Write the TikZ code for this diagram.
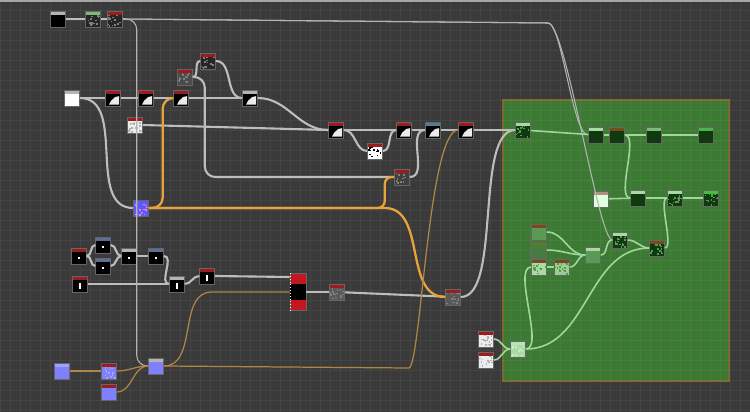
\documentclass[tikz,border=0pt]{standalone}
\usepackage{tikz}
\usetikzlibrary{calc}

\definecolor{bg}{HTML}{3A3A3A}
\definecolor{hred}{HTML}{9E1B1B}
\definecolor{hgray}{HTML}{B4B4B4}
\definecolor{hgreen}{HTML}{7DBA78}
\definecolor{hblue}{HTML}{5B6E96}
\definecolor{hteal}{HTML}{4A8090}
\definecolor{hbrown}{HTML}{7A4A1C}
\definecolor{hmint}{HTML}{A6DCA0}
\definecolor{framec}{HTML}{3C7A34}
\definecolor{frameb}{HTML}{7A6A30}
\definecolor{wirec}{HTML}{BDBDBD}
\definecolor{orngc}{HTML}{E8A33D}
\definecolor{tanc}{HTML}{B08548}
\definecolor{gwirec}{HTML}{9ED99A}
\definecolor{purp}{HTML}{8080FF}
\definecolor{dgreen}{HTML}{0F3A10}
\definecolor{mgreen}{HTML}{5A9A55}
\definecolor{pgreen}{HTML}{A9DBA3}
\definecolor{mixred}{HTML}{C4161E}

% little pictures inside the tiles
\newcommand\bwpic{\fill[white!92!black] ([shift={(2pt,.8pt)}]path picture bounding box.south west) -- ([shift={(-.8pt,.8pt)}]path picture bounding box.south east) -- ([shift={(-.8pt,-3.5pt)}]path picture bounding box.north east) -- ([shift={(-3pt,-4pt)}]path picture bounding box.north east) -- ([shift={(3.2pt,3pt)}]path picture bounding box.south west) -- cycle;}
\newcommand\noisepic[1]{\foreach \i in {1,...,16}{\fill[#1] ([shift={({7.5pt*rnd},{7pt*rnd})}]path picture bounding box.south west) rectangle ++(.9pt,.9pt);}}
\newcommand\dotpic{\fill[white] ([shift={(-.5pt,-1.5pt)}]path picture bounding box.center) rectangle ++(1pt,1pt);}
\newcommand\barpic{\fill[white] ([shift={(-.4pt,-3pt)}]path picture bounding box.center) rectangle ++(.8pt,3.6pt);}

\tikzset{
  hdr/.store in=\hdrcol, hdr=hgray,
  body/.store in=\bodypic, body={},
  tile/.style={inner sep=0pt, minimum width=.3cm, minimum height=.32cm, draw=black!60, line width=.3pt,
    path picture={\bodypic
      \fill[\hdrcol] (path picture bounding box.north west) rectangle ([yshift=-2.3pt]path picture bounding box.north east);}},
  lnk/.style={wirec, line width=1.2pt},
  thinlnk/.style={wirec!85!gray, line width=.6pt},
  orlnk/.style={orngc, line width=1.3pt},
  tanlnk/.style={tanc, line width=.7pt},
  grlnk/.style={gwirec, line width=.9pt},
}

\begin{document}
\begin{tikzpicture}[x=0.02cm, y=-0.02cm]
  \pgfmathsetseed{7}
  \useasboundingbox (0,0) rectangle (750,412);
  \fill[bg] (0,0) rectangle (750,412);
  \fill[framec, draw=frameb, line width=.6pt] (503,100) rectangle (729,381);
  \draw[white, opacity=.05, line width=.3pt, step=0.2cm] (0,0) grid (750,412);
  \fill[gray!70] (0,0) rectangle (750,2);

  % top row
  \node[tile, fill=black, hdr=hgray] (src) at (58,19) {};
  \node[tile, fill=black!85, hdr=hgreen, body=\noisepic{gray}] (nz1) at (93,19) {};
  \node[tile, fill=black!85, hdr=hred, body=\noisepic{gray}] (nz2) at (115,19) {};

  % shape chain
  \node[tile, fill=white, hdr=hgray] (base) at (72,98) {};
  \node[tile, fill=black, hdr=hred, body=\bwpic] (tr1) at (113,98) {};
  \node[tile, fill=black, hdr=hred, body=\bwpic] (tr2) at (146,98) {};
  \node[tile, fill=black, hdr=hred, body=\bwpic] (tr3) at (181,98) {};
  \node[tile, fill=black, hdr=hgray, body=\bwpic] (tr4) at (250,98) {};
  \node[tile, fill=black!70, hdr=hred, body=\noisepic{gray}] (cl1) at (185,77) {};
  \node[tile, fill=black!85, hdr=hred, body=\noisepic{gray}] (cl2) at (208,61) {};
  \node[tile, fill=white!85!gray, hdr=hred, body=\noisepic{gray!60}] (spk) at (135,125) {};

  \node[tile, fill=black, hdr=hred, body=\bwpic] (bl1) at (336,130) {};
  \node[tile, fill=white, hdr=hred, body=\noisepic{black}] (msk) at (375,151) {};
  \node[tile, fill=black, hdr=hred, body=\bwpic] (bl2) at (404,130) {};
  \node[tile, fill=black, hdr=hteal, body=\bwpic] (bl3) at (433,130) {};
  \node[tile, fill=black, hdr=hred, body=\bwpic] (bl4) at (466,130) {};
  \node[tile, fill=black!75, hdr=hred, body=\noisepic{gray}] (cl3) at (402,177) {};
  \node[tile, fill=purp!70!blue, hdr=purp!70!blue, body=\noisepic{magenta!50}] (nrm) at (141,208) {};

  % small black tiles
  \node[tile, fill=black, hdr=hred, body=\dotpic] (k1) at (79,256) {};
  \node[tile, fill=black, hdr=hblue, body=\dotpic] (k2) at (103,245) {};
  \node[tile, fill=black, hdr=hblue, body=\dotpic] (k3) at (103,266) {};
  \node[tile, fill=black, hdr=hgray, body=\dotpic] (k4) at (129,256) {};
  \node[tile, fill=black, hdr=hblue, body=\dotpic] (k5) at (156,256) {};
  \node[tile, fill=black, hdr=hred, body=\barpic] (k6) at (80,284) {};
  \node[tile, fill=black, hdr=hgray, body=\barpic] (k7) at (177,284) {};
  \node[tile, fill=black, hdr=hred, body=\barpic] (k8) at (207,276) {};

  \node[tile, minimum width=.32cm, minimum height=.74cm, fill=mixred, hdr=mixred] (mix) at (298,292) {};
  \fill[black] ($(mix.west)+(0,-8)$) rectangle ($(mix.east)+(0,8)$);
  \draw[white, line width=.6pt, dash pattern=on .5pt off 1.1pt] ([xshift=.4pt]mix.north west) -- ([xshift=.4pt]mix.south west);
  \node[tile, fill=gray!70!black, hdr=hred, body=\noisepic{gray}] (ao) at (337,292) {};
  \node[tile, fill=gray!70!black, hdr=hred, body=\noisepic{gray}] (blnd) at (453,297) {};

  % purple tiles
  \node[tile, fill=purp, hdr=purp!75!white] (pu1) at (62,371) {};
  \node[tile, fill=purp, hdr=hred, body=\noisepic{purp!70!white}] (pu2) at (109,371) {};
  \node[tile, fill=purp, hdr=hgray] (pu3) at (156,366) {};
  \node[tile, fill=purp, hdr=hred] (pu4) at (109,392) {};

  % inside the green frame
  \node[tile, fill=dgreen, hdr=hmint, body=\noisepic{mgreen}] (g1) at (523,130) {};
  \node[tile, fill=dgreen, hdr=hmint] (g2) at (596,135) {};
  \node[tile, fill=dgreen, hdr=hbrown] (g3) at (617,135) {};
  \node[tile, fill=dgreen, hdr=hgreen] (g4) at (654,135) {};
  \node[tile, fill=dgreen, hdr=gray!60!green] (g5) at (706,135) {};
  \node[tile, fill=green!12!white, hdr=hbrown!60!white] (h0) at (601,199) {};
  \node[tile, fill=dgreen, hdr=hmint] (h1) at (638,198) {};
  \node[tile, fill=dgreen, hdr=hmint, body=\noisepic{mgreen}] (h2) at (675,198) {};
  \node[tile, fill=dgreen, hdr=gray!50!green, body=\noisepic{mgreen}] (h3) at (711,198) {};
  \node[tile, fill=mgreen, hdr=hbrown] (l1) at (539,232) {};
  \node[tile, fill=mgreen!80!black, hdr=hbrown!70!green] (l2) at (539,250) {};
  \node[tile, fill=pgreen, hdr=hbrown, body=\noisepic{mgreen}] (l3) at (539,267) {};
  \node[tile, fill=pgreen!80!mgreen, hdr=hbrown, body=\noisepic{mgreen}] (l4) at (562,267) {};
  \node[tile, fill=mgreen, hdr=hmint] (l5) at (593,255) {};
  \node[tile, fill=dgreen, hdr=hmint, body=\noisepic{mgreen}] (j1) at (620,240) {};
  \node[tile, fill=dgreen, hdr=hbrown, body=\noisepic{mgreen}] (j2) at (657,248) {};
  \node[tile, fill=white!85!gray, hdr=hred, body=\noisepic{gray!60}] (s1) at (486,339) {};
  \node[tile, fill=white!85!gray, hdr=hred, body=\noisepic{gray!60}] (s2) at (486,360) {};
  \node[tile, fill=pgreen, hdr=pgreen!80!white, body=\noisepic{hmint!60!white}] (s3) at (518,349) {};
  \coordinate (bend) at (548,23);

  % gray wires
  \draw[lnk] (src) -- (nz1);
  \draw[lnk] (nz1) -- (nz2);
  \draw[thinlnk] (nz2.east) -- (bend) .. controls +(14,0) and +(-16,0) .. (g2.west);
  \draw[thinlnk] (nz2.east) -- (bend) .. controls +(18,0) and +(-14,0) .. (j1.west);
  \draw[thinlnk, rounded corners=6pt] (nz2.east) -- ++(14,0) |- (pu3.west);
  \draw[lnk] (base) -- (tr1);
  \draw[lnk] (tr1) -- (tr2);
  \draw[lnk] (tr2) -- (tr3);
  \draw[lnk] (tr3) -- (tr4);
  \draw[lnk] (cl1.east) to[out=0,in=180] (cl2.west);
  \draw[lnk] (cl2.east) to[out=0,in=180] (tr4.west);
  \draw[lnk, rounded corners=6pt] (cl1.east) -- ++(12,0) |- (cl3.west);
  \draw[lnk] (base.east) to[out=0,in=180] (nrm.west);
  \draw[lnk] (spk.east) -- (bl1.west);
  \draw[lnk] (tr4.east) to[out=0,in=180] (bl1.west);
  \draw[lnk] (bl1) -- (bl2);
  \draw[lnk] (bl1.east) to[out=0,in=180] (msk.west);
  \draw[lnk] (msk.east) to[out=0,in=180] (bl2.west);
  \draw[lnk] (bl2) -- (bl3);
  \draw[lnk] (bl3) -- (bl4);
  \draw[lnk] (bl4.east) -- (g1.west);
  \draw[lnk] (cl3.east) to[out=0,in=180] (bl3.west);
  \draw[lnk] (k1.east) to[out=0,in=180] (k2.west);
  \draw[lnk] (k1.east) to[out=0,in=180] (k3.west);
  \draw[lnk] (k2.east) to[out=0,in=180] (k4.west);
  \draw[lnk] (k3.east) to[out=0,in=180] (k4.west);
  \draw[lnk] (k4) -- (k5);
  \draw[lnk] (k5.east) to[out=0,in=180] (k7.west);
  \draw[lnk] (k6) -- (k7);
  \draw[lnk] (k7.east) to[out=0,in=180] (k8.west);
  \draw[lnk] (k8.east) -- ($(mix.west)+(0,-15)$);
  \draw[lnk] (mix) -- (ao);
  \draw[lnk] (ao) -- (blnd);
  \draw[lnk] (blnd.east) to[out=0,in=180,looseness=.6] (g1.west);

  % orange wires
  \draw[orlnk, rounded corners=6pt] (nrm.east) -- ++(14,0) |- (tr3.west);
  \draw[orlnk, rounded corners=4pt] (nrm.east) -- ++(236,0) |- (cl3.west);
  \draw[orlnk] (nrm.east) -- ++(236,0) to[out=0,in=180] (blnd.west);
  \draw[tanlnk] (pu1) -- (pu2);
  \draw[tanlnk] (pu2.east) to[out=0,in=180] (pu3.west);
  \draw[tanlnk] (pu4.east) to[out=0,in=180] (pu3.west);
  \draw[tanlnk] (pu3.east) to[out=0,in=180] ++(48,-74) -- (mix.west);
  \draw[tanlnk] (pu3.east) -- ++(245,2) .. controls +(12,0) and +(-30,0) .. (bl4.west);

  % green wires
  \draw[grlnk] (g1) -- (g2);
  \draw[grlnk] (g2) -- (g3);
  \draw[grlnk] (g3) -- (g4);
  \draw[grlnk] (g4) -- (g5);
  \draw[grlnk] (g3.east) to[out=0,in=180,looseness=.6] (h1.west);
  \draw[grlnk] (h0) -- (h1);
  \draw[grlnk] (h1) -- (h2);
  \draw[grlnk] (h2) -- (h3);
  \draw[grlnk] (j2.east) to[out=0,in=180,looseness=.5] (h2.west);
  \draw[grlnk] (l1.east) to[out=0,in=180] (l5.west);
  \draw[grlnk] (l2.east) to[out=0,in=180] (l5.west);
  \draw[grlnk] (l3) -- (l4);
  \draw[grlnk] (l4.east) to[out=0,in=180] (l5.west);
  \draw[grlnk] (l5.east) to[out=0,in=180] (j1.west);
  \draw[grlnk] (j1.east) to[out=0,in=180] (j2.west);
  \draw[grlnk] (s1.east) to[out=0,in=180] (s3.west);
  \draw[grlnk] (s2.east) to[out=0,in=180] (s3.west);
  \draw[grlnk] (s3.east) to[out=0,in=180,looseness=.6] (l3.west);
  \draw[grlnk] (s3.east) to[out=0,in=180] (j2.west);
\end{tikzpicture}
\end{document}
